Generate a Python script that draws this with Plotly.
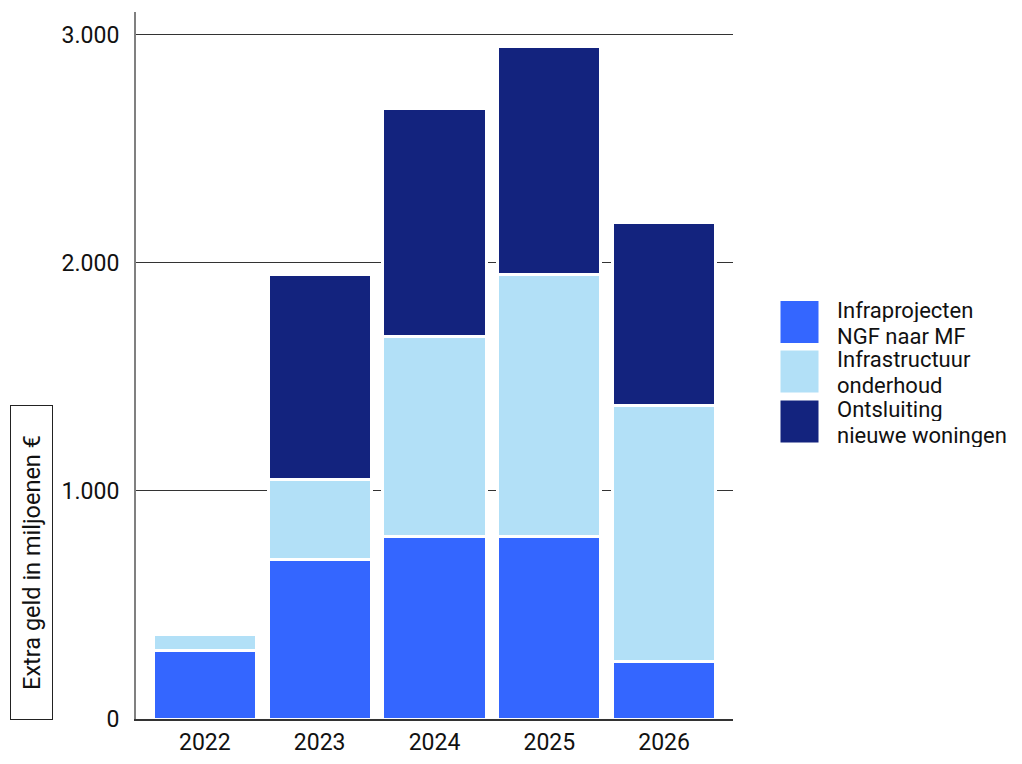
import plotly.graph_objects as go

years = ["2022", "2023", "2024", "2025", "2026"]
infraprojecten = [300, 700, 800, 800, 250]
onderhoud = [70, 350, 875, 1150, 1125]
ontsluiting = [0, 900, 1000, 1000, 800]

series_names = ["Infraprojecten<br>NGF naar MF", "Infrastructuur<br>onderhoud", "Ontsluiting<br>nieuwe woningen"]
series_colors = ["#3466FF", "#B2E0F7", "#13237E"]
y_title = "Extra geld in miljoenen €"

OFF = 8  # page body margin
W, H = 1022 - 2 * OFF, 764 - 2 * OFF
L, R, T, B = 136 - OFF, 733 - OFF, 12 - OFF, 719 - OFF
FONT = "Roboto"

fig = go.Figure()
for name, vals, col in zip(series_names, [infraprojecten, onderhoud, ontsluiting], series_colors):
    fig.add_trace(go.Bar(
        x=years, y=vals, name=name.replace("<br>", " "),
        marker=dict(color=col, line=dict(color="white", width=3)),
        showlegend=False,
    ))

def px_x(p):
    return (p - OFF - L) / (R - L)

def px_y(p):
    return (B - (p - OFF)) / (B - T)

shapes = []
annotations = []
box_tops = [300.5, 350, 400]
for i, (name, col) in enumerate(zip(series_names, series_colors)):
    top = box_tops[i]
    bot = top + 43
    shapes.append(dict(type="rect", xref="paper", yref="paper",
                       x0=px_x(780), x1=px_x(819), y0=px_y(bot), y1=px_y(top),
                       fillcolor=col, line=dict(color="white", width=1), layer="above"))
    for j, ln in enumerate(name.split("<br>")):
        annotations.append(dict(text=ln, xref="paper", yref="paper",
                                x=px_x(835), y=px_y(top + 9 + 26 * j),
                                xanchor="left", yanchor="middle", align="left",
                                showarrow=False, height=24,
                                font=dict(family=FONT, size=22, color="#111111")))

annotations.append(dict(text=y_title, xref="paper", yref="paper",
                        x=px_x(31.5), y=px_y(562.5), xanchor="center", yanchor="middle",
                        textangle=-90, showarrow=False,
                        font=dict(family=FONT, size=23.5, color="#111111"),
                        bordercolor="#222222", borderwidth=1, borderpad=0,
                        width=313, height=41))

fig.update_layout(
    width=W, height=H,
    margin=dict(l=L, r=W - R, t=T, b=H - B),
    barmode="stack", bargap=0.1,
    plot_bgcolor="white", paper_bgcolor="white",
    separators=",.",
    font=dict(family=FONT, size=23, color="#111111"),
    shapes=shapes, annotations=annotations,
    showlegend=False,
)
fig.update_xaxes(type="category", range=[-0.6, 4.6], showgrid=False, automargin=False,
                 showline=True, linecolor="#333333", linewidth=2,
                 ticks="", ticklabelstandoff=1,
                 tickfont=dict(family=FONT, size=23, color="#111111"))
fig.update_yaxes(range=[0, 3100], tickvals=[0, 1000, 2000, 3000], tickformat=",d",
                 showgrid=True, gridcolor="#333333", gridwidth=1, automargin=False,
                 showline=True, linecolor="#808080", linewidth=2,
                 zeroline=False, ticks="", ticklabelstandoff=10,
                 tickfont=dict(family=FONT, size=23, color="#111111"))

fig.write_html("out.html")
